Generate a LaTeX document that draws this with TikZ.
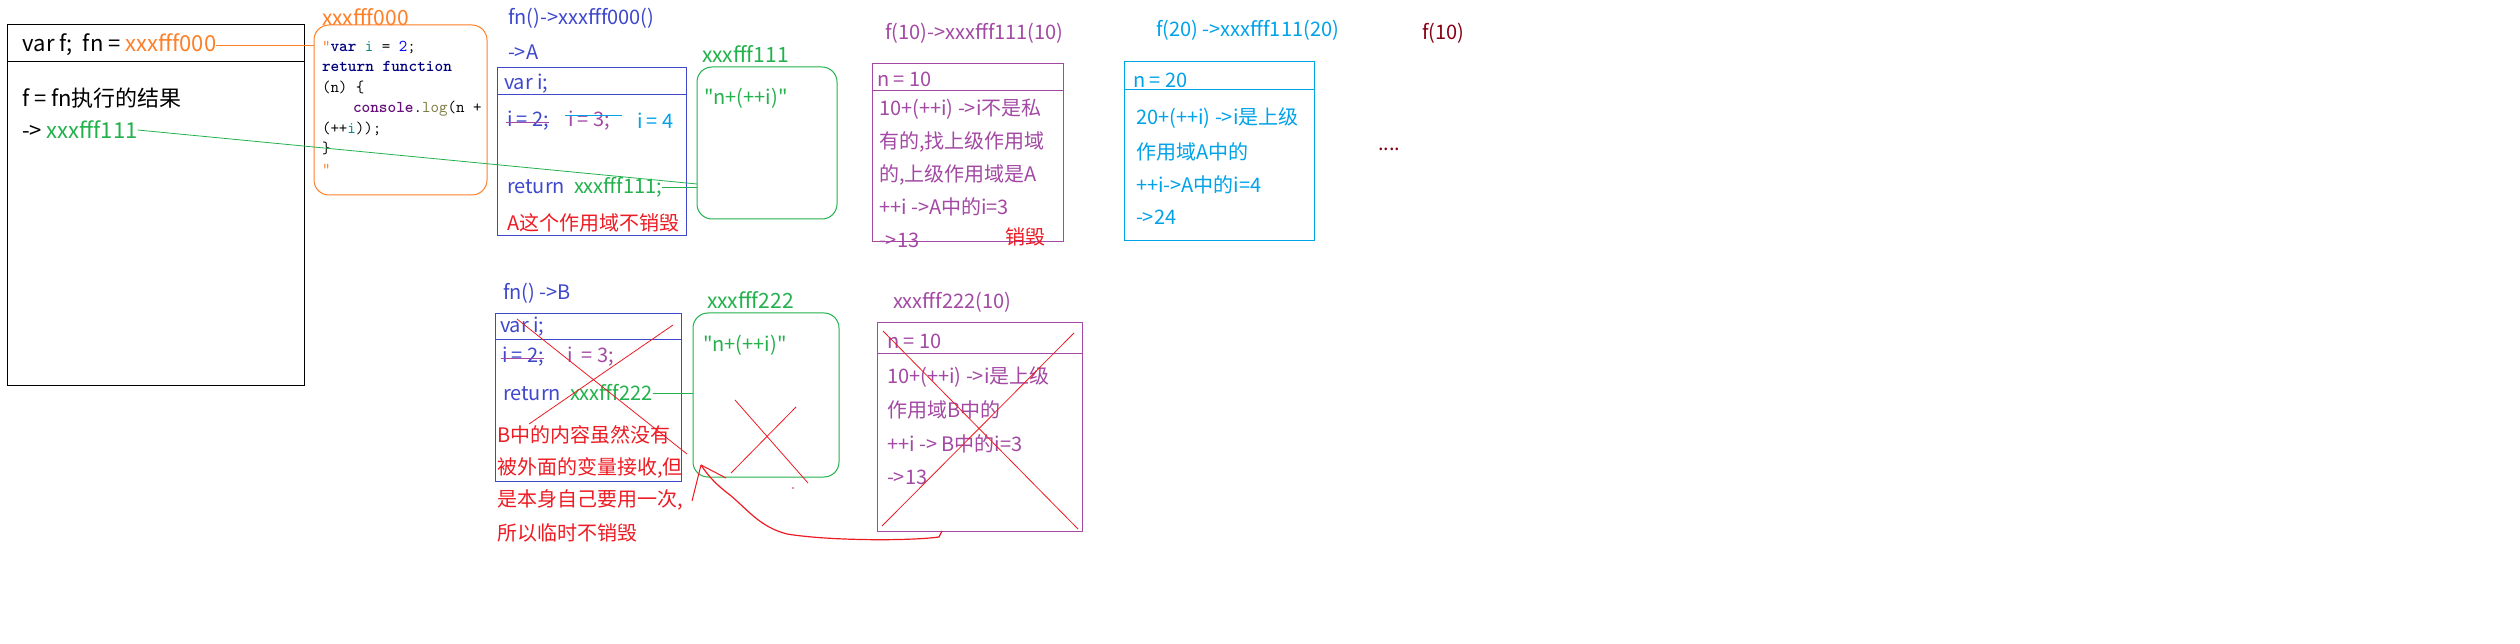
\documentclass[tikz,border=0pt]{standalone}
\usepackage{fontspec}
\setmainfont{Noto Sans CJK SC}
\newfontfamily\zh{Noto Sans CJK SC}
\usetikzlibrary{calc}
\definecolor{cOr}{RGB}{255,127,39}
\definecolor{cGr}{RGB}{34,177,76}
\definecolor{cBl}{RGB}{63,72,204}
\definecolor{cPu}{RGB}{163,73,164}
\definecolor{cCy}{RGB}{0,162,232}
\definecolor{cRd}{RGB}{237,28,36}
\definecolor{cDr}{RGB}{136,0,21}
\definecolor{cNavy}{RGB}{0,0,128}
\definecolor{cTeal}{RGB}{0,128,128}
\definecolor{cBlue}{RGB}{0,0,255}
\definecolor{cCon}{RGB}{102,14,122}
\definecolor{cOl}{RGB}{120,120,60}
\begin{document}
\begin{tikzpicture}[x=1pt,y=-1pt,
  every node/.style={inner sep=0pt,outer sep=0pt},
  t/.style={anchor=west,font=\zh\fontsize{20}{24}\selectfont},
  tb/.style={anchor=west,font=\zh\fontsize{22}{26}\selectfont},
  tl/.style={anchor=west,font=\zh\fontsize{21}{24}\selectfont},
  frame/.style={draw,line width=1pt,anchor=north west},
  rbox/.style={frame,rounded corners=15pt},
  thin/.style={line width=0.8pt}]
\useasboundingbox[fill=white] (0,0) rectangle (2520,644);

% ---------- main box ----------
\node[frame,draw=black,minimum width=297pt,minimum height=360pt] (main) at (7,25) {};
\draw[line width=1pt] (main.west |- 0,62) -- (main.east |- 0,62);
\node[tb] (fnline) at (23,45) {var f;\ \ fn = \textcolor{cOr}{xxxfff000}};
\node[tb] (fres) at (22,98) {f = fn执行的结果};
\node[tb] (f111) at (22,130) {-> \textcolor{cGr}{xxxfff111}};

% ---------- code heap box ----------
\node[tl,text=cOr] (codelbl) at (322,17) {xxxfff000};
\node[rbox,draw=cOr,minimum width=173pt,minimum height=170pt] (code) at (314,25) {};
\node[anchor=north west,align=left,font=\ttfamily\fontsize{16.5}{20.5}\selectfont] (codetxt) at (322,41)
{\textcolor{cOr}{"}\textbf{\textcolor{cNavy}{var}} \textcolor{cTeal}{i} = \textcolor{cBlue}{2};\\
\textbf{\textcolor{cNavy}{return function}}\\
(n) \{\\
\hspace*{31pt}\textbf{\textcolor{cCon}{console}}.\textcolor{cOl}{log}(n +\\
(++\textcolor{cTeal}{i}));\\
\}\\
\textcolor{cOr}{"}};
\draw[cOr,thin] (fnline.east) -- (fnline.east -| code.west);

% ---------- scope A ----------
\node[t,text=cBl] (atitle) at (508,18) {fn()->xxxfff000()};
\node[t,text=cBl] (aarrow) at (508,52) {->A};
\node[frame,draw=cBl,minimum width=189pt,minimum height=168pt] (A) at (497,68) {};
\draw[cBl,line width=1pt] (A.west |- 0,95) -- (A.east |- 0,95);
\node[t,text=cBl] (avar) at (504,84) {var i;};
\node[t,text=cBl] (ai2) at (507,121) {i\ =\ 2;};
\node[t,text=cPu] (ai3) at (568,121) {i\ =\ 3;};
\node[t,text=cCy] (ai4) at (637,121) {i\ =\ 4};
\draw[cPu,thin] ($(ai2.west)+(-1,1)$) -- ($(ai2.east)+(0,1)$);
\draw[cCy,thin] ($(ai3.west)+(-3,-6)$) -- ($(ai3.east)+(12,-6)$);
\node[t,text=cBl] (ret1) at (507,187) {return\ \ \textcolor{cGr}{xxxfff111;}};
\node[t,text=cRd] (anote) at (507,223) {A这个作用域不销毁};

% ---------- function heap xxxfff111 ----------
\node[tl,text=cGr] (g1lbl) at (702,54) {xxxfff111};
\node[rbox,draw=cGr,minimum width=140pt,minimum height=152pt] (g1) at (697,67) {};
\node[t,text=cGr] (g1txt) at (704,98) {"n+(++i)"};
\draw[cGr,thin] (ret1.east) -- (ret1.east -| g1.west);
\draw[cGr,thin] (f111.east) -- ($(ret1.east -| g1.west)+(0,-3)$);

% ---------- f(10) ----------
\node[t,text=cPu] (p1title) at (885,33) {f(10)->xxxfff111(10)};
\node[frame,draw=cPu,minimum width=191pt,minimum height=178pt] (p1) at (872,64) {};
\draw[cPu,line width=1pt] (p1.west |- 0,91) -- (p1.east |- 0,91);
\node[t,text=cPu] (p1n) at (877,79) {n = 10};
\node[t,text=cPu] (p1a) at (879,109) {10+(++i) ->i不是私};
\node[t,text=cPu] (p1b) at (879,142) {有的,找上级作用域};
\node[t,text=cPu] (p1c) at (879,175) {的,上级作用域是A};
\node[t,text=cPu] (p1d) at (879,207) {++i ->A中的i=3};
\node[t,text=cPu] (p1e) at (879,240) {->13};
\node[t,text=cRd] (p1x) at (1005,237) {销毁};

% ---------- f(20) ----------
\node[t,text=cCy] (c1title) at (1156,30) {f(20) ->xxxfff111(20)};
\node[frame,draw=cCy,minimum width=190pt,minimum height=179pt] (c1) at (1124,62) {};
\draw[cCy,line width=1pt] (c1.west |- 0,90) -- (c1.east |- 0,90);
\node[t,text=cCy] (c1n) at (1133,80) {n = 20};
\node[t,text=cCy] (c1a) at (1136,118) {20+(++i) ->i是上级};
\node[t,text=cCy] (c1b) at (1136,152) {作用域A中的};
\node[t,text=cCy] (c1c) at (1136,185) {++i->A中的i=4};
\node[t,text=cCy] (c1d) at (1136,217) {->24};

\node[t,text=cDr] (f10) at (1422,33) {f(10)};
\node[t,text=cDr] (dots) at (1378,149) {....};

% ---------- scope B ----------
\node[t,text=cBl] (btitle) at (503,293) {fn() ->B};
\node[frame,draw=cBl,minimum width=186pt,minimum height=167pt] (B) at (495,314) {};
\draw[cBl,line width=1pt] (B.west |- 0,340) -- (B.east |- 0,340);
\node[t,text=cBl] (bvar) at (500,327) {var i;};
\node[t,text=cBl] (bi2) at (502,357) {i\ =\ 2;};
\node[t,text=cPu] (bi3) at (567,357) {i\ \ =\ 3;};
\draw[cPu,thin] ($(bi2.west)+(-1,1)$) -- ($(bi2.east)+(0,1)$);
\node[t,text=cBl] (ret2) at (503,393) {return\ \ \textcolor{cGr}{xxxfff222}};
\node[t,text=cRd] (bn1) at (497,435) {B中的内容虽然没有};
\node[t,text=cRd] (bn2) at (497,468) {被外面的变量接收,但};
\node[t,text=cRd] (bn3) at (497,500) {是本身自己要用一次,};
\node[t,text=cRd] (bn4) at (497,533) {所以临时不销毁};
\draw[cRd,thin] (517,319) -- (687,454);
\draw[cRd,thin] (673,325) -- (529,424);

% ---------- function heap xxxfff222 ----------
\node[tl,text=cGr] (g2lbl) at (707,300) {xxxfff222};
\node[rbox,draw=cGr,minimum width=146pt,minimum height=164pt] (g2) at (693,313) {};
\node[t,text=cGr] (g2txt) at (703,345) {"n+(++i)"};
\draw[cGr,thin] (ret2.east) -- (ret2.east -| g2.west);
\draw[cRd,thin] (735,400) -- (808,483);
\draw[cRd,thin] (796,407) -- (731,473);
\fill[cRd] (793,488) circle (0.8pt);

% ---------- xxxfff222(10) ----------
\node[t,text=cPu] (p2title) at (893,302) {xxxfff222(10)};
\node[frame,draw=cPu,minimum width=205pt,minimum height=208pt] (p2) at (877,323) {};
\draw[cPu,line width=1pt] (p2.west |- 0,354) -- (p2.east |- 0,354);
\node[t,text=cPu] (p2n) at (887,341) {n = 10};
\node[t,text=cPu] (p2a) at (887,377) {10+(++i) ->i是上级};
\node[t,text=cPu] (p2b) at (887,410) {作用域B中的};
\node[t,text=cPu] (p2c) at (887,444) {++i -> B中的i=3};
\node[t,text=cPu] (p2d) at (887,477) {->13};
\draw[cRd,thin] (883,331) -- (1078,529);
\draw[cRd,thin] (1074,333) -- (882,526);

% ---------- red return curve ----------
\coordinate (cvS) at ($(p2.south west)+(65,0)$);
\coordinate (cvT) at (701,465);
\draw[cRd,line width=1.2pt] (cvS) -- ++(-3,6) .. controls (910,541) and (830,541) .. (787,534)
  .. controls (760,527) and (748,510) .. (730,495) .. controls (714,483) and (707,474) .. (cvT);
\draw[cRd,line width=1pt] (cvT) -- (726,478);
\draw[cRd,line width=1pt] (cvT) -- (692,501);
\end{tikzpicture}
\end{document}
